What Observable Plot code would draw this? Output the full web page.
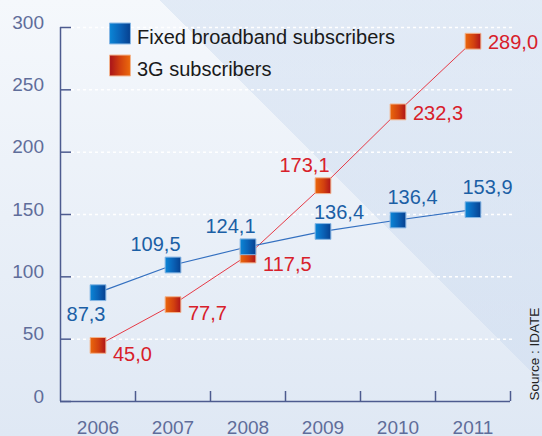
<!DOCTYPE html>
<html><head><meta charset="utf-8">
<script src="https://cdn.jsdelivr.net/npm/d3@7"></script>
<script src="https://cdn.jsdelivr.net/npm/@observablehq/plot@0.6"></script>
<style>
html,body{margin:0;padding:0;}
body{width:542px;height:436px;overflow:hidden;
background:
 linear-gradient(45deg, rgba(0,0,0,0) 421px, rgba(200,216,238,0.42) 421px),
 linear-gradient(180deg,#f5f8fc 0%, #dfe8f4 100%);}
#chart svg{display:block}
</style></head><body><div id="chart"></div>
<script>
// ---- data ----
const years = [2006, 2007, 2008, 2009, 2010, 2011];
const fixedValues = [87.3, 109.5, 124.1, 136.4, 145.6, 153.9];
const fixedLabels = ["87,3", "109,5", "124,1", "136,4", "136,4", "153,9"];
const g3Values = [45.0, 77.7, 117.5, 173.1, 232.3, 289.0];
const g3Labels = ["45,0", "77,7", "117,5", "173,1", "232,3", "289,0"];
const yTicks = [0, 50, 100, 150, 200, 250, 300];
const seriesNames = ["Fixed broadband subscribers", "3G subscribers"];
const sourceText = "Source : IDATE";

// ---- build tables ----
const fixed = years.map((year, i) => ({year, value: fixedValues[i], label: fixedLabels[i], i}));
const g3 = years.map((year, i) => ({year, value: g3Values[i], label: g3Labels[i], i}));
const bounds = d3.range(years.length + 1).map(i => years[0] - 0.5 + i);
const xMin = bounds[0], xMax = bounds[bounds.length - 1];

const W = 542, H = 436, mL = 60, mR = 32, mT = 27, mB = 35;
const pxPerYear = (W - mL - mR) / years.length;
const pxPerUnit = (H - mT - mB) / 300;
const yTickLen = 11 / pxPerYear;
const xTickLen = 10 / pxPerUnit;

const axisColor = "#4d5b8f", tickText = "#5f6d9a";
const blueText = "#1b5fa5", redText = "#d8202a";
const fontFamily = "'Liberation Sans', Arial, sans-serif";

function defs() {
  const d = d3.create("svg:defs");
  const grad = (id, stops) => {
    const g = d.append("linearGradient").attr("id", id).attr("x1", 0).attr("x2", 1).attr("y1", 0).attr("y2", 0);
    stops.forEach(([o, c]) => g.append("stop").attr("offset", o).attr("stop-color", c));
  };
  grad("blueGrad", [[0, "#0b86d6"], [0.5, "#0a63b8"], [1, "#06408f"]]);
  grad("redGrad", [[0, "#ea680c"], [0.55, "#d2400f"], [1, "#ae141a"]]);
  grad("redGradLeg", [[0, "#a8121a"], [0.5, "#d2400f"], [1, "#ec6a0c"]]);
  return d.node();
}

const fixedPlacement = [
  {idx: [0], dx: -12, dy: 28, anchor: "middle"},
  {idx: [1, 2], dx: -17.5, dy: -14, anchor: "middle"},
  {idx: [3], dx: 16, dy: -12, anchor: "middle"},
  {idx: [4, 5], dx: 14.5, dy: -16, anchor: "middle"}
];
const g3Placement = [
  {idx: [0, 1, 2], dx: 15, dy: 15.5, anchor: "start"},
  {idx: [3], dx: -18.5, dy: -13.5, anchor: "middle"},
  {idx: [4, 5], dx: 15, dy: 8, anchor: "start"}
];
const labelMarks = (data, placement, fill) => placement.map(p =>
  Plot.text(data, {filter: d => p.idx.includes(d.i), x: "year", y: "value", text: "label",
    dx: p.dx, dy: p.dy, textAnchor: p.anchor, lineAnchor: "bottom", fill, fontSize: 20}));

const chart = Plot.plot({
  width: W, height: H, marginLeft: mL, marginRight: mR, marginTop: mT, marginBottom: mB,
  x: {domain: [xMin, xMax], axis: null},
  y: {domain: [0, 300], axis: null},
  style: {background: "transparent", fontFamily, overflow: "visible"},
  marks: [
    defs,
    Plot.ruleY(yTicks.filter(d => d > 0), {x1: xMin + yTickLen, x2: xMax + 0.04, stroke: "white", strokeWidth: 1.5, strokeDasharray: "3,3"}),
    Plot.ruleY(yTicks, {x1: xMin, x2: xMin + yTickLen, stroke: axisColor, strokeWidth: 1.5}),
    Plot.ruleX(bounds.slice(1), {y1: 0, y2: xTickLen, stroke: axisColor, strokeWidth: 1.5}),
    Plot.ruleY([0], {x1: xMin, x2: xMax, stroke: axisColor, strokeWidth: 1.5}),
    Plot.ruleX([xMin], {y1: 0, y2: 300, stroke: axisColor, strokeWidth: 1.5}),
    Plot.text(yTicks, {x: xMin, y: d => d, text: d => String(d), dx: -16.5, dy: 1, textAnchor: "end", lineAnchor: "bottom", fill: tickText, fontSize: 19}),
    Plot.text(years, {x: d => d, y: 0, text: d => String(d), dy: 32, lineAnchor: "bottom", fill: tickText, fontSize: 19}),
    Plot.line(g3, {x: "year", y: "value", stroke: "#e63a46", strokeWidth: 1}),
    Plot.line(fixed, {x: "year", y: "value", stroke: "#3470c0", strokeWidth: 1.2}),
    Plot.dot(g3, {x: "year", y: "value", symbol: "square", r: 8.9, fill: "url(#redGrad)", stroke: "#f2b48e", strokeWidth: 1}),
    Plot.dot(fixed, {x: "year", y: "value", symbol: "square", r: 8.9, fill: "url(#blueGrad)", stroke: "#86b6e4", strokeWidth: 1}),
    ...labelMarks(fixed, fixedPlacement, blueText),
    ...labelMarks(g3, g3Placement, redText),
    // legend
    Plot.dot([seriesNames[0]], {frameAnchor: "top-left", dx: 59.5, dy: 6, symbol: "square", r: 11.8, fill: "url(#blueGrad)", stroke: "#86b6e4", strokeWidth: 1}),
    Plot.dot([seriesNames[1]], {frameAnchor: "top-left", dx: 59.5, dy: 38, symbol: "square", r: 11.8, fill: "url(#redGradLeg)", stroke: "#f2b48e", strokeWidth: 1}),
    Plot.text([seriesNames[0]], {frameAnchor: "top-left", text: d => d, dx: 76.5, dy: 16.5, textAnchor: "start", lineAnchor: "bottom", fill: "#1a1a1a", fontSize: 20}),
    Plot.text([seriesNames[1]], {frameAnchor: "top-left", text: d => d, dx: 76.5, dy: 48, textAnchor: "start", lineAnchor: "bottom", fill: "#1a1a1a", fontSize: 20}),
    // source
    Plot.text([sourceText], {frameAnchor: "bottom-right", text: d => d, dx: 24.5, dy: -1, rotate: -90, textAnchor: "start", lineAnchor: "middle", fill: "#222", fontSize: 13.5})
  ]
});
document.getElementById("chart").appendChild(chart);
</script>
</body></html>
